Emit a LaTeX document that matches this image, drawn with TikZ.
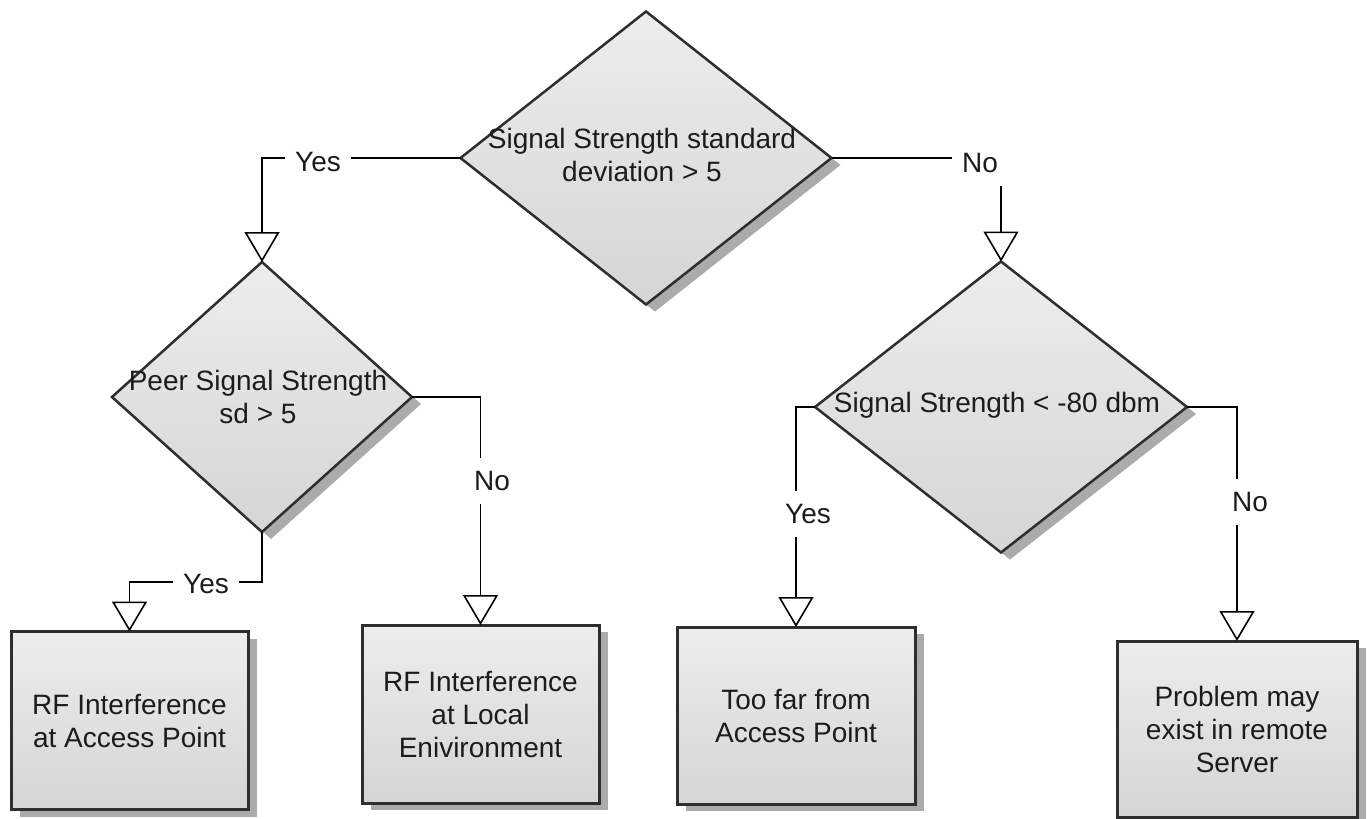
\documentclass[tikz,border=0pt]{standalone}
\usepackage{fontspec}
\setmainfont{Liberation Sans}
\usetikzlibrary{shapes.geometric,shadows,arrows.meta}
\definecolor{edgec}{HTML}{2E2E2E}
\definecolor{txtc}{HTML}{1C1C1C}
\definecolor{topc}{HTML}{EDEDED}
\definecolor{botc}{HTML}{D5D5D5}
\definecolor{shadc}{HTML}{ABABAB}
\tikzset{
  shadowed/.style={drop shadow={shadow xshift=9pt, shadow yshift=-7pt, fill=shadc, opacity=1}},
  dia/.style={diamond, draw=edgec, line width=2.5pt, top color=topc, bottom color=botc,
    inner sep=0pt, outer sep=0pt, shadowed},
  boxnode/.style={rectangle, draw=edgec, line width=3pt, top color=topc, bottom color=botc,
    inner sep=0pt, outer sep=0pt, shadowed, minimum width=237pt,
    font=\fontsize{28}{33}\selectfont, text=txtc, align=center},
  txt/.style={font=\fontsize{28}{33}\selectfont, text=txtc, align=center, inner sep=0pt},
  lbl/.style={font=\fontsize{28}{33}\selectfont, text=txtc, fill=white, inner xsep=10pt, inner ysep=13pt},
  conn/.style={draw=black, line width=1.6pt, -{Triangle[open, length=30pt, width=35pt, fill=white]}}
}
\begin{document}
\begin{tikzpicture}[x=1pt, y=-1pt]
\useasboundingbox (0,0) rectangle (1369,819);
\fill[white] (0,0) rectangle (1369,819);
% decisions
\node[dia, minimum width=371pt, minimum height=293pt] (d1) at (646,158) {};
\node[txt] (d1t) at (642,155) {Signal Strength standard\\deviation > 5};
\node[dia, minimum width=300pt, minimum height=270pt] (d2) at (262,397) {};
\node[txt] (d2t) at (258,397) {Peer Signal Strength\\sd > 5};
\node[dia, minimum width=372pt, minimum height=291pt] (d3) at (1001,407) {};
\node[txt] (d3t) at (997,405) {Signal Strength < -80 dbm};
% outcomes
\node[boxnode, minimum height=178pt] (b1) at (129.5,720.5) {RF Interference\\at Access Point};
\node[boxnode, minimum height=178pt] (b2) at (480.5,714) {RF Interference\\at Local\\Enivironment};
\node[boxnode, minimum height=177pt, minimum width=238pt] (b3) at (796,715.5) {Too far from\\Access Point};
\node[boxnode, minimum height=176pt, minimum width=240pt] (b4) at (1237,729) {Problem may\\exist in remote\\Server};
% connectors
\coordinate (k1) at (262,582);
\draw[conn] (d1.west) -| (d2.north);
\draw[conn] (d1.east) -| (d3.north);
\draw[conn] (d2.east) -| (b2.north);
\draw[conn] (d2.south) -- (k1) -| (b1.north);
\draw[conn] (d3.west) -| (b3.north);
\draw[conn] (d3.east) -| (b4.north);
% labels
\node[lbl] (l1) at (318,162) {Yes};
\node[lbl] (l2) at (980,163) {No};
\node[lbl] (l3) at (492,481) {No};
\node[lbl] (l4) at (206,584) {Yes};
\node[lbl] (l5) at (808,514) {Yes};
\node[lbl] (l6) at (1250,502) {No};
\end{tikzpicture}
\end{document}
